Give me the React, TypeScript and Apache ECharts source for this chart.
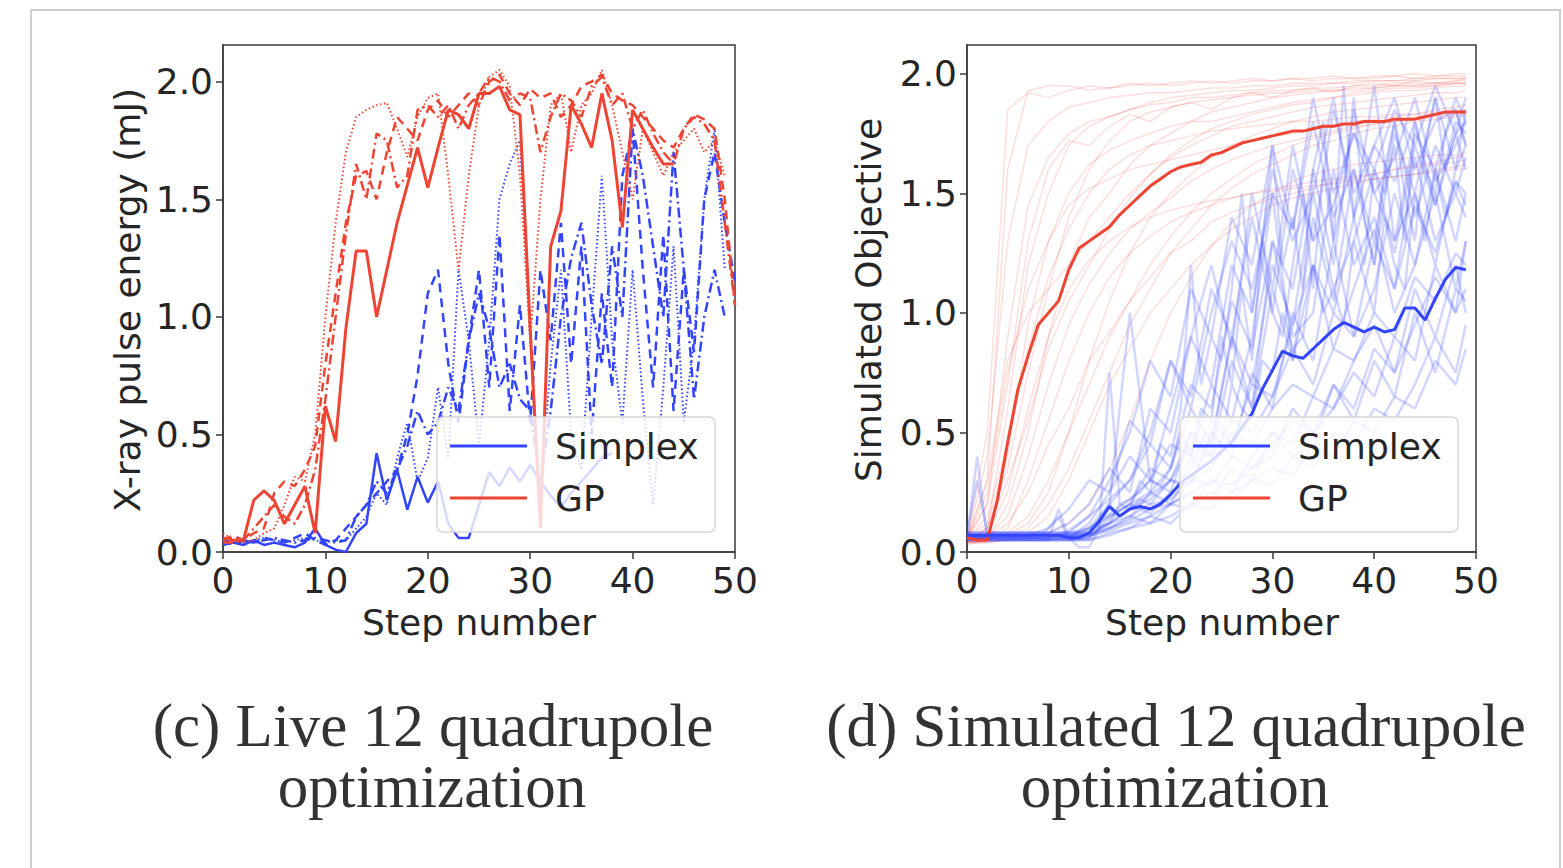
import React, { useEffect, useRef } from "react";
import * as echarts from "echarts";

// ---------- DATA ----------
const X_TICKS = [0, 10, 20, 30, 40, 50];
const Y_TICKS = [0, 0.5, 1.0, 1.5, 2.0];

// (c) Live 12 quadrupole optimization — four GP runs and four Simplex runs (step 0..)
const GP_SOLID = [0.06, 0.05, 0.05, 0.22, 0.26, 0.22, 0.12, 0.2, 0.28, 0.08, 0.62, 0.47, 0.95, 1.28, 1.28, 1.0, 1.2, 1.4, 1.56, 1.72, 1.55, 1.72, 1.88, 1.86, 1.8, 1.95, 1.95, 1.98, 1.88, 1.86, 0.95, 0.1, 1.3, 1.45, 1.9, 1.82, 1.72, 1.95, 1.75, 1.38, 1.88, 1.8, 1.72, 1.65, 1.65];
const GP_DASHDOT = [0.04, 0.04, 0.05, 0.1, 0.15, 0.2, 0.15, 0.12, 0.2, 0.35, 0.65, 1.0, 1.35, 1.65, 1.5, 1.78, 1.75, 1.55, 1.6, 1.88, 1.9, 1.85, 1.9, 1.8, 1.9, 1.95, 2.02, 2.0, 1.92, 1.95, 1.93, 1.7, 1.85, 1.95, 1.92, 1.85, 1.98, 2.02, 1.9, 1.95, 1.8, 1.88, 1.78, 1.7, 1.65, 1.8, 1.85, 1.82, 1.75, 1.4, 1.05];
const GP_DASHED = [0.05, 0.07, 0.05, 0.08, 0.1, 0.25, 0.3, 0.28, 0.35, 0.45, 0.8, 1.1, 1.4, 1.6, 1.62, 1.5, 1.7, 1.85, 1.8, 1.75, 1.88, 1.92, 1.85, 1.9, 1.95, 1.9, 2.0, 2.03, 1.95, 1.9, 1.97, 1.93, 1.95, 1.85, 1.9, 1.98, 2.0, 2.03, 1.95, 1.92, 1.9, 1.85, 1.8, 1.75, 1.72, 1.8, 1.86, 1.84, 1.8, 1.5, 1.05];
const GP_DOTTED = [0.08, 0.05, 0.04, 0.05, 0.08, 0.1, 0.2, 0.32, 0.3, 0.5, 1.0, 1.4, 1.7, 1.85, 1.88, 1.9, 1.91, 1.8, 1.68, 1.85, 1.93, 1.95, 1.6, 1.2, 1.6, 1.9, 2.02, 2.05, 1.98, 1.6, 0.9, 1.5, 1.9, 1.95, 1.7, 1.9, 1.95, 2.05, 1.9, 1.7, 1.5, 1.8, 1.7, 1.6, 1.7, 1.75, 1.8, 1.7, 1.75, 1.6];
const SX_SOLID = [0.03, 0.04, 0.03, 0.05, 0.03, 0.04, 0.03, 0.02, 0.04, 0.1, 0.03, 0.01, 0.0, 0.08, 0.12, 0.42, 0.22, 0.35, 0.18, 0.32, 0.21, 0.3, 0.12, 0.06, 0.06, 0.2, 0.34, 0.28, 0.36, 0.3, 0.37, 0.3, 0.24, 0.19, 0.25, 0.3, 0.35, 0.4, 0.42];
const SX_DASHED = [0.05, 0.03, 0.05, 0.04, 0.06, 0.05, 0.04, 0.06, 0.08, 0.05, 0.03, 0.05, 0.1, 0.15, 0.2, 0.25, 0.3, 0.35, 0.5, 0.75, 1.1, 1.2, 0.8, 0.55, 0.9, 1.2, 0.7, 1.35, 0.6, 1.05, 0.55, 1.2, 0.9, 1.4, 0.8, 1.3, 0.5, 1.1, 0.7, 1.6, 1.8, 1.2, 0.7, 1.35, 0.6, 1.2, 0.85, 1.5, 1.7, 1.4, 1.15];
const SX_DOTTED = [0.05, 0.05, 0.04, 0.05, 0.06, 0.05, 0.04, 0.05, 0.06, 0.05, 0.04, 0.05, 0.05, 0.1, 0.15, 0.25, 0.2, 0.4, 0.55, 0.3, 0.4, 0.7, 0.4, 1.2, 0.9, 0.45, 0.9, 1.5, 1.65, 1.75, 0.9, 0.25, 0.8, 1.2, 0.5, 0.35, 1.0, 1.6, 0.9, 0.55, 1.2, 0.65, 0.2, 0.7, 1.3, 0.55, 0.9, 1.5, 1.8, 1.2];
const SX_DASHDOT = [0.04, 0.06, 0.05, 0.04, 0.05, 0.06, 0.05, 0.04, 0.05, 0.06, 0.05, 0.04, 0.05, 0.15, 0.2, 0.3, 0.25, 0.35, 0.45, 0.6, 0.5, 0.55, 0.7, 0.6, 0.9, 1.1, 0.95, 0.7, 0.8, 0.65, 0.6, 0.3, 0.6, 1.0, 1.25, 1.4, 1.05, 0.8, 1.3, 1.0, 1.8, 1.6, 1.3, 1.0, 1.7, 1.2, 0.65, 1.0, 1.2, 1.0];

// (d) Simulated 12 quadrupole optimization — mean curves (step 0..49)
const GP_MEAN = [0.06, 0.05, 0.05, 0.22, 0.46, 0.68, 0.82, 0.95, 1.0, 1.05, 1.18, 1.27, 1.3, 1.33, 1.36, 1.41, 1.45, 1.49, 1.53, 1.56, 1.59, 1.61, 1.62, 1.63, 1.66, 1.67, 1.69, 1.71, 1.72, 1.73, 1.74, 1.75, 1.76, 1.76, 1.77, 1.78, 1.78, 1.79, 1.79, 1.8, 1.8, 1.8, 1.81, 1.81, 1.81, 1.82, 1.83, 1.84, 1.84, 1.84];
const SX_MEAN = [0.07, 0.07, 0.07, 0.07, 0.07, 0.07, 0.07, 0.07, 0.07, 0.07, 0.06, 0.06, 0.08, 0.13, 0.19, 0.15, 0.18, 0.19, 0.18, 0.2, 0.24, 0.29, 0.32, 0.35, 0.38, 0.42, 0.46, 0.52, 0.58, 0.68, 0.76, 0.84, 0.82, 0.81, 0.85, 0.89, 0.93, 0.96, 0.94, 0.92, 0.94, 0.92, 0.93, 1.02, 1.02, 0.97, 1.06, 1.14, 1.19, 1.18];

// individual simulated runs, sampled at these steps
const STEPS_COARSE = [0, 2, 4, 6, 8, 10, 12, 14, 16, 18, 20, 22, 24, 26, 28, 30, 32, 34, 36, 38, 40, 42, 44, 46, 48, 49];
const GP_RUN_1 = [0.05, 0.3, 1.6, 1.93, 1.95, 1.95, 1.93, 1.94, 1.95, 1.96, 1.95, 1.96, 1.97, 1.96, 1.97, 1.97, 1.98, 1.97, 1.98, 1.98, 1.98, 1.99, 1.98, 1.99, 1.99, 1.99];
const GP_RUN_2 = [0.04, 0.1, 0.6, 1.2, 1.5, 1.7, 1.78, 1.82, 1.85, 1.88, 1.9, 1.91, 1.92, 1.93, 1.93, 1.94, 1.95, 1.95, 1.96, 1.96, 1.97, 1.97, 1.97, 1.98, 1.98, 1.98];
const GP_RUN_3 = [0.05, 0.05, 0.2, 0.5, 0.9, 1.2, 1.4, 1.5, 1.62, 1.7, 1.75, 1.8, 1.84, 1.86, 1.88, 1.9, 1.91, 1.92, 1.93, 1.93, 1.94, 1.95, 1.95, 1.96, 1.96, 1.96];
const GP_RUN_4 = [0.03, 0.05, 0.1, 0.3, 0.55, 0.8, 1.0, 1.15, 1.25, 1.32, 1.38, 1.42, 1.45, 1.48, 1.5, 1.52, 1.53, 1.55, 1.56, 1.57, 1.58, 1.6, 1.61, 1.62, 1.63, 1.64];
const GP_RUN_5 = [0.06, 0.2, 0.9, 1.45, 1.65, 1.75, 1.8, 1.82, 1.85, 1.87, 1.88, 1.9, 1.9, 1.91, 1.92, 1.93, 1.93, 1.94, 1.94, 1.95, 1.95, 1.96, 1.96, 1.96, 1.97, 1.97];
const GP_RUN_6 = [0.04, 0.04, 0.06, 0.1, 0.2, 0.35, 0.55, 0.75, 0.95, 1.1, 1.25, 1.35, 1.45, 1.52, 1.58, 1.62, 1.66, 1.7, 1.72, 1.75, 1.77, 1.78, 1.8, 1.81, 1.82, 1.83];
const GP_RUN_7 = [0.05, 0.15, 0.45, 0.85, 1.15, 1.35, 1.5, 1.6, 1.66, 1.7, 1.72, 1.74, 1.76, 1.77, 1.78, 1.79, 1.8, 1.8, 1.81, 1.82, 1.82, 1.83, 1.83, 1.84, 1.84, 1.84];
const GP_RUN_8 = [0.05, 0.08, 0.25, 0.6, 0.9, 1.1, 1.22, 1.3, 1.36, 1.4, 1.43, 1.45, 1.47, 1.48, 1.5, 1.51, 1.52, 1.53, 1.54, 1.55, 1.56, 1.57, 1.58, 1.59, 1.6, 1.6];
const GP_RUN_9 = [0.05, 0.5, 1.85, 1.92, 1.9, 1.93, 1.95, 1.94, 1.96, 1.95, 1.96, 1.97, 1.96, 1.97, 1.98, 1.97, 1.98, 1.98, 1.99, 1.98, 1.99, 1.99, 2.0, 1.99, 2.0, 2.0];
const GP_RUN_10 = [0.04, 0.05, 0.08, 0.15, 0.3, 0.5, 0.7, 0.9, 1.05, 1.2, 1.32, 1.42, 1.5, 1.56, 1.62, 1.66, 1.7, 1.73, 1.75, 1.77, 1.79, 1.8, 1.82, 1.83, 1.84, 1.85];
const GP_RUN_11 = [0.05, 0.1, 0.35, 0.75, 1.1, 1.4, 1.6, 1.72, 1.8, 1.84, 1.86, 1.88, 1.89, 1.9, 1.91, 1.92, 1.92, 1.93, 1.93, 1.94, 1.94, 1.95, 1.95, 1.95, 1.96, 1.96];
const GP_RUN_12 = [0.05, 0.06, 0.15, 0.4, 0.7, 0.95, 1.12, 1.25, 1.35, 1.42, 1.48, 1.55, 1.6, 1.64, 1.67, 1.7, 1.72, 1.74, 1.76, 1.78, 1.79, 1.8, 1.81, 1.82, 1.83, 1.84];
const GP_RUN_13 = [0.04, 0.04, 0.05, 0.06, 0.08, 0.12, 0.2, 0.35, 0.55, 0.8, 1.0, 1.15, 1.28, 1.38, 1.45, 1.5, 1.55, 1.58, 1.6, 1.62, 1.63, 1.64, 1.65, 1.66, 1.66, 1.67];
const GP_RUN_14 = [0.05, 0.3, 0.8, 1.0, 1.1, 1.2, 1.3, 1.4, 1.5, 1.58, 1.65, 1.7, 1.74, 1.78, 1.8, 1.82, 1.84, 1.86, 1.87, 1.88, 1.89, 1.9, 1.91, 1.92, 1.92, 1.93];
const GP_RUN_15 = [0.05, 0.2, 0.7, 1.3, 1.6, 1.72, 1.7, 1.78, 1.83, 1.8, 1.86, 1.88, 1.85, 1.9, 1.92, 1.9, 1.93, 1.94, 1.92, 1.95, 1.96, 1.95, 1.97, 1.96, 1.97, 1.98];
const GP_RUN_16 = [0.04, 0.06, 0.12, 0.25, 0.45, 0.6, 0.8, 0.92, 1.05, 1.15, 1.25, 1.3, 1.38, 1.42, 1.45, 1.48, 1.5, 1.52, 1.55, 1.56, 1.58, 1.6, 1.62, 1.63, 1.65, 1.66];
const GP_RUN_17 = [0.05, 0.4, 1.3, 1.7, 1.8, 1.86, 1.88, 1.9, 1.91, 1.92, 1.92, 1.93, 1.94, 1.94, 1.95, 1.95, 1.96, 1.96, 1.96, 1.97, 1.97, 1.97, 1.98, 1.98, 1.98, 1.98];
const GP_RUN_18 = [0.05, 0.1, 0.3, 0.55, 0.85, 1.05, 1.2, 1.35, 1.48, 1.58, 1.66, 1.72, 1.77, 1.8, 1.83, 1.85, 1.87, 1.88, 1.9, 1.91, 1.92, 1.93, 1.93, 1.94, 1.95, 1.95];
const GP_RUN_19 = [0.04, 0.05, 0.07, 0.12, 0.25, 0.5, 0.8, 1.05, 1.25, 1.4, 1.5, 1.58, 1.65, 1.7, 1.74, 1.77, 1.8, 1.82, 1.84, 1.85, 1.86, 1.87, 1.88, 1.89, 1.9, 1.9];
const GP_RUN_20 = [0.05, 0.25, 0.75, 1.1, 1.3, 1.45, 1.52, 1.56, 1.6, 1.62, 1.64, 1.66, 1.68, 1.7, 1.72, 1.74, 1.75, 1.77, 1.78, 1.8, 1.81, 1.82, 1.83, 1.85, 1.86, 1.87];
const GP_RUN_21 = [0.06, 0.12, 0.4, 0.95, 1.3, 1.5, 1.62, 1.68, 1.72, 1.75, 1.78, 1.8, 1.8, 1.82, 1.84, 1.86, 1.88, 1.89, 1.9, 1.92, 1.93, 1.94, 1.94, 1.95, 1.96, 1.96];
const GP_RUN_22 = [0.04, 0.04, 0.05, 0.08, 0.15, 0.3, 0.5, 0.7, 0.85, 1.0, 1.1, 1.2, 1.28, 1.35, 1.4, 1.45, 1.48, 1.5, 1.52, 1.54, 1.56, 1.57, 1.58, 1.6, 1.61, 1.62];

const SX_RUN_1 = [0.06, 0.07, 0.07, 0.07, 0.07, 0.07, 0.1, 0.15, 0.2, 0.25, 0.35, 0.6, 0.45, 0.9, 0.7, 1.2, 0.95, 1.5, 1.1, 1.3, 1.6, 1.25, 1.7, 1.45, 1.8, 1.75];
const SX_RUN_2 = [0.07, 0.07, 0.07, 0.07, 0.07, 0.07, 0.07, 0.12, 0.18, 0.22, 0.3, 0.28, 0.5, 0.4, 0.75, 0.6, 1.0, 0.8, 1.3, 0.9, 1.1, 1.5, 1.2, 1.6, 1.3, 1.5];
const SX_RUN_3 = [0.05, 0.05, 0.05, 0.05, 0.05, 0.05, 0.06, 0.1, 0.13, 0.18, 0.2, 0.25, 0.22, 0.35, 0.3, 0.5, 0.4, 0.45, 0.7, 0.55, 0.8, 0.65, 1.0, 0.75, 1.1, 1.05];
const SX_RUN_4 = [0.08, 0.08, 0.08, 0.08, 0.08, 0.12, 0.2, 0.35, 0.25, 0.6, 0.5, 0.9, 1.2, 0.85, 1.5, 1.1, 1.7, 1.3, 1.85, 1.5, 1.7, 1.9, 1.6, 1.8, 1.85, 1.7];
const SX_RUN_5 = [0.06, 0.06, 0.06, 0.06, 0.06, 0.06, 0.08, 0.15, 0.2, 0.16, 0.25, 0.3, 0.28, 0.4, 0.35, 0.45, 0.55, 0.5, 0.6, 0.75, 0.65, 0.9, 0.8, 1.2, 1.0, 1.3];
const SX_RUN_6 = [0.07, 0.07, 0.07, 0.07, 0.1, 0.18, 0.3, 0.25, 0.55, 0.45, 0.8, 0.65, 1.1, 0.9, 1.4, 1.0, 1.6, 1.3, 1.45, 1.75, 1.5, 1.65, 1.9, 1.55, 1.7, 1.8];
const SX_RUN_7 = [0.05, 0.05, 0.05, 0.05, 0.05, 0.05, 0.05, 0.08, 0.1, 0.12, 0.15, 0.2, 0.18, 0.25, 0.3, 0.28, 0.4, 0.35, 0.5, 0.45, 0.6, 0.55, 0.7, 0.9, 0.75, 0.95];
const SX_RUN_8 = [0.06, 0.06, 0.06, 0.06, 0.06, 0.06, 0.08, 0.2, 1.0, 0.3, 0.25, 0.5, 0.4, 0.8, 0.6, 1.3, 0.9, 1.0, 1.6, 1.2, 1.4, 1.1, 1.65, 1.3, 1.5, 1.4];
const SX_RUN_9 = [0.08, 0.08, 0.08, 0.08, 0.08, 0.08, 0.1, 0.16, 0.22, 0.3, 0.45, 0.4, 0.7, 0.55, 0.9, 1.5, 0.8, 1.2, 1.0, 1.4, 1.95, 1.3, 1.5, 1.2, 1.6, 1.7];
const SX_RUN_10 = [0.05, 0.05, 0.05, 0.05, 0.05, 0.05, 0.07, 0.12, 0.15, 0.2, 0.22, 0.3, 0.35, 0.5, 0.45, 0.6, 0.7, 0.65, 0.85, 0.8, 1.0, 0.9, 1.15, 1.05, 1.25, 1.2];
const SX_RUN_11 = [0.07, 0.07, 0.07, 0.07, 0.07, 0.07, 0.07, 0.1, 0.14, 0.25, 0.2, 0.35, 0.55, 0.45, 0.7, 0.65, 0.95, 1.2, 0.85, 1.1, 1.35, 1.0, 1.2, 1.5, 1.1, 1.3];
const SX_RUN_12 = [0.06, 0.06, 0.06, 0.06, 0.06, 0.09, 0.15, 0.22, 0.3, 0.5, 0.8, 0.6, 1.0, 1.3, 1.1, 1.5, 1.35, 1.8, 1.4, 1.6, 1.2, 1.75, 1.5, 1.9, 1.6, 1.85];
const SX_RUN_13 = [0.06, 0.06, 0.06, 0.06, 0.06, 0.06, 0.1, 0.2, 0.3, 0.45, 0.35, 0.7, 0.6, 1.05, 0.85, 1.3, 1.1, 1.6, 1.2, 1.85, 1.5, 1.3, 1.75, 1.6, 1.9, 1.8];
const SX_RUN_14 = [0.07, 0.07, 0.07, 0.07, 0.07, 0.07, 0.07, 0.09, 0.12, 0.15, 0.2, 0.18, 0.3, 0.25, 0.4, 0.5, 0.45, 0.65, 0.6, 0.8, 0.95, 0.75, 1.1, 0.9, 1.2, 1.0];
const SX_RUN_15 = [0.05, 0.05, 0.05, 0.05, 0.05, 0.06, 0.12, 0.25, 0.4, 0.3, 0.6, 0.9, 0.7, 1.2, 1.0, 1.6, 1.3, 1.5, 1.9, 1.4, 1.7, 1.55, 1.8, 1.45, 1.75, 1.6];
const SX_RUN_16 = [0.08, 0.08, 0.08, 0.08, 0.08, 0.08, 0.08, 0.1, 0.15, 0.12, 0.2, 0.25, 0.3, 0.28, 0.35, 0.4, 0.6, 0.5, 0.7, 0.6, 0.85, 0.75, 0.95, 1.15, 1.0, 1.1];
const SX_RUN_17 = [0.06, 0.06, 0.06, 0.06, 0.06, 0.06, 0.06, 0.14, 0.2, 0.35, 0.3, 0.5, 0.45, 0.9, 0.6, 1.1, 0.8, 1.4, 1.05, 1.6, 1.3, 1.8, 1.4, 1.7, 1.5, 1.65];
const SX_RUN_18 = [0.07, 0.07, 0.07, 0.07, 0.07, 0.07, 0.09, 0.12, 0.18, 0.24, 0.3, 0.45, 0.4, 0.55, 0.5, 0.65, 0.85, 0.7, 1.0, 0.9, 1.3, 1.1, 1.45, 1.25, 1.55, 1.5];
const SX_RUN_19 = [0.05, 0.05, 0.05, 0.05, 0.05, 0.05, 0.05, 0.07, 0.1, 0.15, 0.12, 0.2, 0.25, 0.22, 0.3, 0.35, 0.32, 0.45, 0.4, 0.55, 0.5, 0.65, 0.6, 0.8, 0.7, 0.85];
const SX_RUN_20 = [0.06, 0.06, 0.06, 0.06, 0.06, 0.08, 0.15, 0.3, 0.5, 0.8, 0.65, 1.1, 0.9, 1.4, 1.2, 1.7, 1.35, 1.9, 1.5, 1.75, 1.6, 1.85, 1.7, 1.95, 1.75, 1.9];
// full-resolution runs (step 0..49)
const SX_FULL_1 = [0.05, 0.4, 0.05, 0.05, 0.05, 0.05, 0.05, 0.05, 0.05, 0.18, 0.06, 0.02, 0.02, 0.1, 0.75, 0.2, 0.22, 0.25, 0.3, 0.28, 0.35, 0.5, 0.4, 0.6, 0.55, 0.9, 0.7, 1.1, 0.8, 1.3, 1.0, 0.9, 1.2, 1.5, 1.1, 1.6, 1.3, 1.95, 1.4, 1.2, 1.6, 1.5, 1.7, 1.3, 1.8, 1.6, 1.5, 1.75, 1.85, 1.7];
const SX_FULL_2 = [0.08, 0.3, 0.08, 0.08, 0.08, 0.08, 0.08, 0.08, 0.08, 0.08, 0.08, 0.08, 0.08, 0.12, 0.2, 0.15, 0.18, 0.22, 0.2, 0.25, 0.3, 0.28, 0.4, 0.35, 0.5, 0.45, 0.7, 0.6, 0.55, 0.8, 0.75, 1.0, 0.85, 0.9, 1.2, 1.0, 1.1, 0.95, 1.3, 1.15, 1.0, 1.4, 1.2, 1.1, 1.5, 1.3, 1.6, 1.4, 1.55, 1.45];
const SX_FULL_3 = [0.06, 0.06, 0.06, 0.06, 0.06, 0.06, 0.06, 0.06, 0.1, 0.15, 0.05, 0.05, 0.06, 0.1, 0.12, 0.2, 0.18, 0.3, 0.25, 0.45, 0.4, 0.6, 1.2, 0.7, 0.9, 0.8, 1.1, 1.5, 1.0, 1.3, 1.7, 1.2, 1.4, 1.1, 1.6, 1.8, 1.3, 1.5, 1.9, 1.4, 1.2, 1.6, 1.8, 1.5, 1.3, 1.7, 1.9, 1.6, 1.75, 1.8];

const GP_RUNS = [GP_RUN_1, GP_RUN_2, GP_RUN_3, GP_RUN_4, GP_RUN_5, GP_RUN_6, GP_RUN_7, GP_RUN_8, GP_RUN_9, GP_RUN_10, GP_RUN_11, GP_RUN_12, GP_RUN_13, GP_RUN_14, GP_RUN_15, GP_RUN_16, GP_RUN_17, GP_RUN_18, GP_RUN_19, GP_RUN_20, GP_RUN_21, GP_RUN_22];
const SX_RUNS = [SX_RUN_1, SX_RUN_2, SX_RUN_3, SX_RUN_4, SX_RUN_5, SX_RUN_6, SX_RUN_7, SX_RUN_8, SX_RUN_9, SX_RUN_10, SX_RUN_11, SX_RUN_12, SX_RUN_13, SX_RUN_14, SX_RUN_15, SX_RUN_16, SX_RUN_17, SX_RUN_18, SX_RUN_19, SX_RUN_20];
const SX_FULL = [SX_FULL_1, SX_FULL_2, SX_FULL_3];

// ---------- STYLE ----------
const RED = "#ee4433";
const BLUE = "#3344ff";
const RED_FAINT = "rgba(238,68,51,0.17)";
const BLUE_FAINT = "rgba(51,68,255,0.22)";
const SANS = "DejaVu Sans";
const TXT = "#262626";
const AX = "#3a3a3a";

const byStep = (ys: number[]) => ys.map((v, i) => [i, v]);
const atSteps = (xs: number[], ys: number[]) => ys.map((v, i) => [xs[i], v]);

function lineSeries(data: number[][], color: string, width: number, type: any, grid: number, z = 2) {
  return {
    type: "line",
    xAxisIndex: grid,
    yAxisIndex: grid,
    data,
    symbol: "none",
    silent: true,
    clip: true,
    z,
    lineStyle: { color, width, type },
  };
}

function makeAxes(gridIndex: number, ymax: number) {
  const x = {
    type: "value",
    gridIndex,
    min: 0,
    max: 50,
    interval: 10,
    axisLine: { show: true, lineStyle: { color: AX, width: 1.5 } },
    axisTick: { show: true, length: 7, customValues: X_TICKS, lineStyle: { color: AX, width: 1.5 } },
    axisLabel: { show: true, margin: 10, color: TXT, fontSize: 36, fontFamily: SANS, customValues: X_TICKS },
    splitLine: { show: false },
  };
  const y = {
    type: "value",
    gridIndex,
    min: 0,
    max: ymax,
    axisLine: { show: true, lineStyle: { color: AX, width: 1.5 } },
    axisTick: { show: true, length: 7, customValues: Y_TICKS, lineStyle: { color: AX, width: 1.5 } },
    axisLabel: {
      show: true,
      margin: 10,
      color: TXT,
      fontSize: 36,
      fontFamily: SANS,
      customValues: Y_TICKS,
      formatter: (v: number) => v.toFixed(1),
    },
    splitLine: { show: false },
  };
  return { x, y };
}

function legendGraphics(dx: number) {
  return [
    {
      type: "rect",
      z: 100,
      shape: { x: 437 + dx, y: 417, width: 278, height: 115, r: 6 },
      style: { fill: "rgba(255,255,255,0.8)", stroke: "#d6d6d6", lineWidth: 1.5 },
    },
    { type: "line", z: 101, shape: { x1: 450 + dx, y1: 446, x2: 527 + dx, y2: 446 }, style: { stroke: BLUE, lineWidth: 3 } },
    { type: "line", z: 101, shape: { x1: 450 + dx, y1: 498, x2: 527 + dx, y2: 498 }, style: { stroke: RED, lineWidth: 3 } },
    {
      type: "text", z: 101, x: 555 + dx, y: 446,
      style: { text: "Simplex", fill: TXT, fontSize: 36, fontFamily: SANS, align: "left", verticalAlign: "middle", textAlign: "left", textVerticalAlign: "middle" },
    },
    {
      type: "text", z: 101, x: 555 + dx, y: 498,
      style: { text: "GP", fill: TXT, fontSize: 36, fontFamily: SANS, align: "left", verticalAlign: "middle", textAlign: "left", textVerticalAlign: "middle" },
    },
  ];
}

function textEl(text: string, x: number, y: number, size: number, family: string, rotation = 0, fill = TXT) {
  return {
    type: "text",
    z: 101,
    x,
    y,
    rotation,
    style: { text, fill, fontSize: size, fontFamily: family, align: "center", verticalAlign: "middle", textAlign: "center", textVerticalAlign: "middle" },
  };
}

export default function App() {
  const ref = useRef<HTMLDivElement>(null);
  useEffect(() => {
    if (!ref.current) return;
    const chart = echarts.init(ref.current, undefined, { renderer: "svg" });
    const a0 = makeAxes(0, 2.156);
    const a1 = makeAxes(1, 2.12);

    const series: any[] = [];
    // (c) live
    series.push(lineSeries(byStep(SX_DOTTED), BLUE, 2, [1.5, 2.5], 0));
    series.push(lineSeries(byStep(SX_DASHDOT), BLUE, 2.5, [10, 4, 2, 4], 0));
    series.push(lineSeries(byStep(SX_DASHED), BLUE, 2.5, [9, 6], 0));
    series.push(lineSeries(byStep(SX_SOLID), BLUE, 2.5, "solid", 0));
    series.push(lineSeries(byStep(GP_DOTTED), RED, 2, [1.5, 2.5], 0));
    series.push(lineSeries(byStep(GP_DASHDOT), RED, 2.5, [10, 4, 2, 4], 0));
    series.push(lineSeries(byStep(GP_DASHED), RED, 2.5, [9, 6], 0));
    series.push(lineSeries(byStep(GP_SOLID), RED, 3, "solid", 0));
    // (d) simulated
    GP_RUNS.forEach((r) => series.push(lineSeries(atSteps(STEPS_COARSE, r), RED_FAINT, 1.5, "solid", 1)));
    SX_RUNS.forEach((r) => series.push(lineSeries(atSteps(STEPS_COARSE, r), BLUE_FAINT, 2.5, "solid", 1)));
    SX_FULL.forEach((r) => series.push(lineSeries(byStep(r), BLUE_FAINT, 2.5, "solid", 1)));
    series.push(lineSeries(byStep(GP_MEAN), RED, 3, "solid", 1, 5));
    series.push(lineSeries(byStep(SX_MEAN), BLUE, 3, "solid", 1, 5));

    const graphic: any[] = [
      {
        type: "polyline",
        z: 100,
        shape: { points: [[31, 868], [31, 10], [1560, 10], [1560, 868]] },
        style: { stroke: "#cfcfcf", lineWidth: 2, fill: "none" },
      },
      ...legendGraphics(0),
      ...legendGraphics(743),
      textEl("X-ray pulse energy (mJ)", 127, 300, 36, SANS, Math.PI / 2),
      textEl("Simulated Objective", 868, 300, 36, SANS, Math.PI / 2),
      textEl("Step number", 479, 622, 36, SANS),
      textEl("Step number", 1222, 622, 36, SANS),
      textEl("(c) Live 12 quadrupole", 433, 725, 61, "Liberation Serif", 0, "#333333"),
      textEl("optimization", 432, 786, 61, "Liberation Serif", 0, "#333333"),
      textEl("(d) Simulated 12 quadrupole", 1176, 725, 61, "Liberation Serif", 0, "#333333"),
      textEl("optimization", 1175, 786, 61, "Liberation Serif", 0, "#333333"),
    ];

    chart.setOption({
      animation: false,
      backgroundColor: "#ffffff",
      grid: [
        { left: 223, top: 45, width: 512, height: 507, show: true, borderColor: AX, borderWidth: 1.5, backgroundColor: "transparent" },
        { left: 967, top: 45, width: 509, height: 507, show: true, borderColor: AX, borderWidth: 1.5, backgroundColor: "transparent" },
      ],
      xAxis: [a0.x, a1.x],
      yAxis: [a0.y, a1.y],
      series,
      graphic,
    });
    return () => chart.dispose();
  }, []);
  return <div ref={ref} style={{ position: "absolute", left: 0, top: 0, width: 1563, height: 868 }} />;
}
